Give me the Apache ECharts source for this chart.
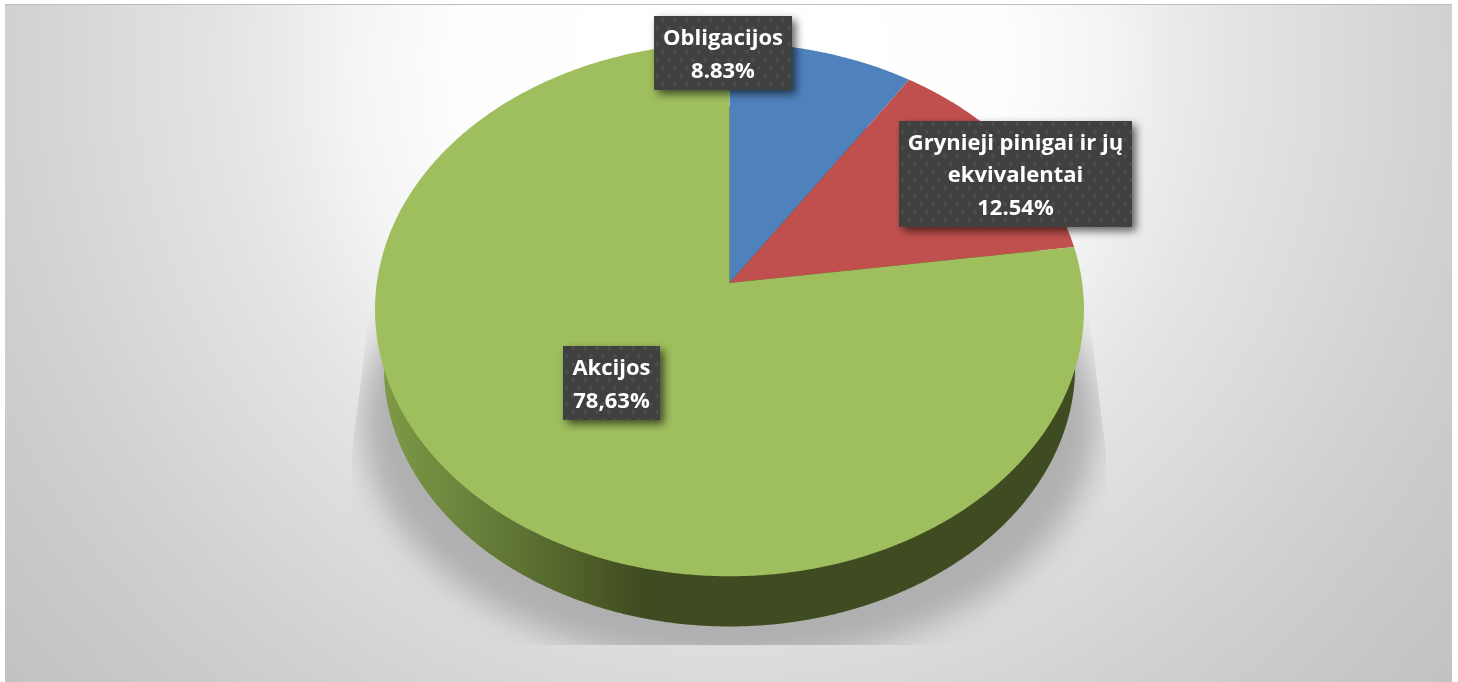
<!DOCTYPE html>
<html>
<head>
<meta charset="utf-8">
<style>
  html, body { margin: 0; padding: 0; background: #fff; }
  #frame {
    position: absolute; left: 5px; top: 4px; width: 1447px; height: 677px;
    border-top: 1px solid #bdbdbd;
    background: radial-gradient(circle 950px at 724px 56px,
      #ffffff 0%, #fefefe 28%, #f4f4f4 40%, #ececec 46%, #e4e4e4 53%, #dcdcdc 63%, #d2d2d2 75%, #cbcbcb 85%, #c2c2c2 100%);
  }
  #chart { position: absolute; left: 0; top: 0; width: 1458px; height: 682px; }
</style>
</head>
<body>
<div id="frame"></div>
<div id="chart"></div>
<script src="https://cdn.jsdelivr.net/npm/echarts@6/dist/echarts.min.js"></script>
<script>
var categories = ['Obligacijos', 'Grynieji pinigai ir jų\nekvivalentai', 'Akcijos'];
var labelValues = ['8.83%', '12.54%', '78,63%'];
// slice sizes as measured on the drawn pie, the printed labels differ a little from them
var sliceShares = [9.3, 13.5, 77.2];
var sliceColors = ['#4f81bd', '#c0504d', '#9fbe5d'];

// label boxes: left, top, right, bottom
var labelBoxes = [
  [654, 16, 792, 90],
  [899, 121, 1132, 227],
  [563, 346, 660, 420]
];

// perspective of the pie, fitted to the reference
var pie = { cx: 729.5, a: 352.7, b: 264, k: 0.0998 };
var topPlane = { y0: 283, sx: 1, sy: 1 };
var basePlane = { y0: 340.5, sx: 0.975, sy: 0.975 };
var shadowPlane = { y0: 398, sx: 1.035, sy: 0.909 };

function project(share, plane) {
  var t = share / 100 * Math.PI * 2;
  var w = 1 + pie.k * Math.cos(t);
  return [
    pie.cx + pie.a * plane.sx * Math.sin(t) / w,
    plane.y0 - pie.b * plane.sy * Math.cos(t) / w
  ];
}

function arcPoints(from, to, plane) {
  var pts = [];
  for (var p = from; p < to; p += 0.1) {
    pts.push(project(p, plane));
  }
  pts.push(project(to, plane));
  return pts;
}

// dotted texture of the label boxes
function makeDots() {
  var c = document.createElement('canvas');
  c.width = 12;
  c.height = 16;
  var ctx = c.getContext('2d');
  ctx.fillStyle = '#404040';
  ctx.fillRect(0, 0, 12, 16);
  ctx.fillStyle = '#4d4d4d';
  [[3, 4], [9, 12]].forEach(function (d) {
    ctx.beginPath();
    ctx.arc(d[0], d[1], 2, 0, Math.PI * 2);
    ctx.fill();
  });
  return c;
}
var dots = makeDots();

var sliceData = [];
var sum = 0;
sliceShares.forEach(function (v) {
  sliceData.push([v, sum]);
  sum += v;
});

var myChart = echarts.init(document.getElementById('chart'));

var option = {
  animation: false,
  series: [
    {
      // shadow under the pie and the side wall
      type: 'custom',
      coordinateSystem: 'none',
      silent: true,
      data: [[sum]],
      renderItem: function (params, api) {
        var total = api.value(0);
        var shadowPts = arcPoints(0, total, shadowPlane).map(function (p) {
          return [p[0] - 3000, p[1]];
        });
        return {
          type: 'group',
          children: [
            {
              type: 'group',
              clipPath: {
                type: 'polygon',
                shape: {
                  points: [[380, 230], [1079, 230], [1106, 455], [1106, 645], [352, 645], [352, 450]]
                }
              },
              children: [
                {
                  // shape sits off the canvas, only its soft shadow lands here
                  type: 'polygon',
                  shape: { points: shadowPts },
                  style: {
                    fill: '#b0b0b0',
                    shadowBlur: 30,
                    shadowOffsetX: 3000,
                    shadowColor: '#b0b0b0'
                  }
                }
              ]
            },
            {
              type: 'polygon',
              shape: { points: arcPoints(0, total, basePlane) },
              style: {
                fill: {
                  type: 'linear',
                  x: 375, y: 0, x2: 1084, y2: 0,
                  global: true,
                  colorStops: [
                    { offset: 0, color: '#7f9c48' },
                    { offset: 0.2, color: '#5f7434' },
                    { offset: 0.38, color: '#3f4b20' },
                    { offset: 1, color: '#3f4b20' }
                  ]
                }
              }
            }
          ]
        };
      }
    },
    {
      // pie top
      type: 'custom',
      coordinateSystem: 'none',
      silent: true,
      data: sliceData,
      renderItem: function (params, api) {
        var from = api.value(1);
        var to = from + api.value(0);
        var pts = [[pie.cx, topPlane.y0]].concat(arcPoints(from, to, topPlane));
        return {
          type: 'polygon',
          shape: { points: pts },
          style: { fill: sliceColors[params.dataIndex] }
        };
      }
    },
    {
      // data labels
      type: 'custom',
      coordinateSystem: 'none',
      silent: true,
      data: sliceShares,
      renderItem: function (params) {
        var box = labelBoxes[params.dataIndex];
        return {
          type: 'group',
          children: [
            {
              type: 'rect',
              shape: { x: box[0], y: box[1], width: box[2] - box[0], height: box[3] - box[1] },
              style: {
                fill: { image: dots, repeat: 'repeat' },
                shadowBlur: 8,
                shadowOffsetX: 4,
                shadowOffsetY: 4,
                shadowColor: 'rgba(0,0,0,0.6)'
              }
            },
            {
              type: 'text',
              style: {
                text: categories[params.dataIndex] + '\n' + labelValues[params.dataIndex],
                x: (box[0] + box[2]) / 2,
                y: (box[1] + box[3]) / 2 + 2,
                align: 'center',
                verticalAlign: 'middle',
                fill: '#ffffff',
                lineHeight: 32.5,
                font: 'bold 22px "Open Sans"'
              }
            }
          ]
        };
      }
    }
  ]
};

option && myChart.setOption(option);
</script>
</body>
</html>
